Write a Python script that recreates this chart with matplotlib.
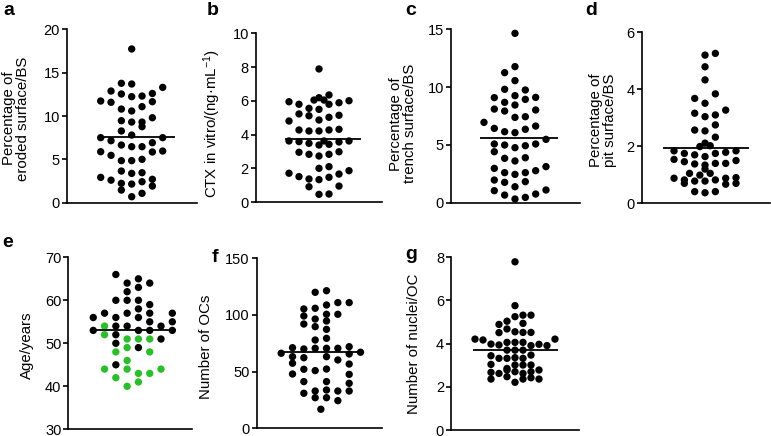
import matplotlib
matplotlib.use('Agg')
import matplotlib.pyplot as plt

plt.rcParams['font.family'] = ['Liberation Sans', 'DejaVu Sans']
plt.rcParams['mathtext.fontset'] = 'custom'
plt.rcParams['mathtext.rm'] = 'Liberation Sans'
plt.rcParams['mathtext.it'] = 'Liberation Sans:italic'
plt.rcParams['mathtext.bf'] = 'Liberation Sans:bold'

# ---------------- data (column offset within swarm, value) ----------------
# a: Percentage of eroded surface/BS
a_cols = [0, -1, 0, 3, -2, -1, 0, 1, 2, -3, -2, 2, 1, -1, 0, 2, -1, 0, 1, 1, -1, 0,
          -3, -2, 3, 2, -1, 0, 1, -3, -2, 2, 3, -1, 0, 1, -1, 0, 1, -3, -2, 2,
          -1, 0, 1, 2, -1, 1, 0]
a_vals = [17.73, 13.77, 13.69, 13.3, 12.88, 12.54, 12.23, 12.3, 12.6, 11.73, 11.58, 11.65,
          11.08, 10.8, 10.58, 9.8, 9.46, 9.3, 9.3, 8.77, 8.27, 7.8,
          7.5, 7.15, 7.5, 6.92, 6.65, 6.46, 6.46, 5.88, 5.46, 5.85, 5.96, 4.85, 4.85, 5.0,
          3.65, 3.38, 3.46, 2.92, 2.6, 2.7, 2.23, 2.15, 2.42, 1.92, 1.46, 1.08, 0.69]
a_mean = 7.54

# b: CTX in vitro
b_cols = [0, 1, 0, -0.5, 0.5, -3, -2, 2, 3, 1, -1, 0, -2, -1, 2, -3, 0, 1,
          -2, -1, 0, 1, 2, -3, -2, -1, 0, 0.5, 1, 2, 3, -2, -1, 0, 1, 2,
          0, 1, -3, -2, -1, 0, 1, 2, 3, -1, 2, 0, 1]
b_vals = [7.89, 6.35, 6.19, 6.05, 6.05, 5.95, 5.80, 5.89, 6.01, 5.80, 5.56, 5.50, 5.23, 5.12, 5.15,
          4.81, 4.87, 5.03,
          4.28, 4.22, 4.22, 4.28, 4.32, 3.63, 3.59, 3.49, 3.39, 3.63, 3.43, 3.57, 3.63,
          2.96, 2.84, 2.74, 2.84, 2.99, 2.01, 2.11, 1.72, 1.52, 1.38, 1.34, 1.48, 1.67, 1.87,
          0.92, 0.96, 0.47, 0.49]
b_mean = 3.75

# c: Percentage of trench surface/BS
c_cols = [0, 0, -1, 0, -1, 1, 0, -2, 1, 2, -1, 0, -2, -1, 2, 0, 1, -3,
          -2, -1, 0, 1, 2, 3, -2, -1, 0, 1, 2, -2, -1, 0, 1,
          -2, -1, 0, 1, 2, 3, -2, -1, 0, 1, -2, -1, 0, 1, 2, 3]
c_vals = [14.65, 11.77, 11.25, 10.56, 9.81, 9.75, 9.26, 9.09, 8.94, 9.11, 8.68, 8.45, 8.10, 7.93,
          8.02, 7.38, 7.44, 6.95,
          6.43, 6.14, 6.06, 6.35, 6.63, 5.48, 5.08, 4.99, 4.76, 4.93, 5.08, 4.41, 3.84, 3.61, 3.89,
          2.97, 2.60, 2.45, 2.60, 2.77, 3.12, 1.96, 1.76, 1.38, 1.82,
          1.04, 0.66, 0.32, 0.46, 0.75, 1.10]
c_mean = 5.57

# d: Percentage of pit surface/BS
d_cols = [0, 1, 0, 0, 1, -1, 0, 2, -1, 0, 1, 1, -1, 0, 1, 0, -0.5, 0.5,
          -3, -2, -1, 0, 1, 2, 3, -3, -2, -1, 0, 1, 2, 3,
          0, -1.5, -0.5, 0.5, -3, -2, -1, 0, 1, 2, 3, -2, 2, 3, -1, 0, 1]
d_vals = [5.20, 5.26, 4.79, 4.33, 3.84, 3.68, 3.51, 3.27, 3.16, 3.04, 3.10, 2.75, 2.57, 2.54, 2.32,
          2.11, 1.99, 2.02,
          1.84, 1.75, 1.70, 1.64, 1.75, 1.79, 1.84, 1.54, 1.46, 1.38, 1.34, 1.40, 1.40, 1.50,
          1.20, 1.05, 0.99, 1.05, 0.88, 0.82, 0.78, 0.78, 0.82, 0.88, 0.90, 0.70, 0.67, 0.70,
          0.41, 0.37, 0.41]
d_mean = 1.93

# e: Age/years (black and green groups)
e_black_cols = [-1.5, -0.5, 0.5, 1.5, 0.5, -0.5, -1.5, -0.5, 0.5, 0.5, 1.5, -2.5, -0.5, 1.5, 3.5,
                -3.5, -1.5, 0.5, 1.5, 3.5, -1.5, -0.5, 2.5, -3.5, 0.5, 1.5, 3.5, -1.5, 2.5,
                -1.5, 0.5, -1.5]
e_black_vals = [66, 64, 65, 64, 63, 62, 60, 60, 60, 58, 59, 57, 57, 57, 57,
                56, 56, 56, 55, 55, 54, 54, 54, 53, 53, 53, 53, 52, 51,
                50, 49, 45]
e_green_cols = [-2.5, -2.5, -0.5, 0.5, 1.5, -1.5, 1.5, -0.5, -0.5, -2.5, -0.5, 2.5, 0.5, 1.5,
                -1.5, 0.5, -0.5]
e_green_vals = [54, 52, 51, 51, 51, 48, 48, 49, 46, 44, 44, 44, 43, 43, 42, 41, 40]
e_mean = 53.0

# f: Number of OCs
f_cols = [-0.5, 0.5, -1.5, -0.5, 0.5, 1.5, 2.5, -1.5, -0.5, 0.5, 1.5, -1.5, -0.5, 0.5, 0.5,
          -0.5, 0.5, -2.5, -1.5, -0.5, 0.5, 1.5, 2.5, -3.5, 3.5, -2.5, -1.5, 0.5, 1.5, 2.5,
          -2.5, 2.5, -2.5, -1.5, -0.5, 0.5, 2.5, -1.5, 0.5, 2.5,
          -1.5, -0.5, 0.5, 1.5, 2.5, -0.5, 0.5, 1.5, 0]
f_vals = [120.0, 121.4, 105.3, 105.9, 108.8, 110.9, 110.9, 99.1, 96.4, 100.6, 100.6, 92.0, 89.7,
          94.7, 87.3, 77.9, 79.4, 71.1, 70.0, 70.6, 70.6, 70.6, 72.0, 66.2, 67.1,
          63.2, 62.3, 63.2, 60.3, 65.6, 57.4, 56.7, 47.9, 52.1, 50.9, 52.3, 47.6, 41.2, 41.2, 39.7,
          30.9, 32.9, 33.8, 32.9, 32.9, 27.0, 27.0, 24.4, 16.8]
f_mean = 67.6

# g: Number of nuclei/OC
g_cols = [0, 0, 0, 1, 2, -2, -1, 1, -2, -1, 0, 1, 2,
          -5, -4, -3, -2, -1, 0, 1, 2, 3, 4, 5,
          -1, 0, 1, -3, -2, -1, 0, 1, 2,
          -3, -1, 0, 1, 2, -3, -2, -1, 0, 1, 2, 3,
          -3, -1, 0, 1, 2, 3]
g_vals = [7.79, 5.76, 5.25, 5.32, 5.32, 4.89, 5.04, 4.94, 4.51, 4.68, 4.55, 4.52, 4.52,
          4.21, 4.17, 3.98, 3.94, 4.06, 4.06, 4.06, 3.91, 3.97, 3.91, 4.21,
          3.70, 3.70, 3.70, 3.44, 3.32, 3.32, 3.35, 3.32, 3.47,
          3.04, 2.85, 3.01, 3.01, 3.01, 2.67, 2.62, 2.78, 2.70, 2.62, 2.70, 2.78,
          2.36, 2.47, 2.21, 2.36, 2.42, 2.36]
g_mean = 3.71

ylabels = {
    'a': 'Percentage of\neroded surface/BS',
    'b': 'CTX in vitro/(ng·mL$^{-1}$)',
    'c': 'Percentage of\ntrench surface/BS',
    'd': 'Percentage of\npit surface/BS',
    'e': 'Age/years',
    'f': 'Number of OCs',
    'g': 'Number of nuclei/OC',
}
yticks = {
    'a': [0, 5, 10, 15, 20],
    'b': [0, 2, 4, 6, 8, 10],
    'c': [0, 5, 10, 15],
    'd': [0, 2, 4, 6],
    'e': [30, 40, 50, 60, 70],
    'f': [0, 50, 100, 150],
    'g': [0, 2, 4, 6, 8],
}

# ---------------- layout ----------------
W, H = 771, 436
fig = plt.figure(figsize=(W / 100, H / 100), dpi=100)
GREEN = '#27c027'

# name: (x0, x1, ytop, ybot, xlim, mean-line extent, label coords, letter pos)
layout = {
    'a': (66.7, 196.7, 29.3, 202.7, (-6.29, 6.29), (-3.23, 4.19), (-0.28, 0.485), (3, 15)),
    'b': (255.7, 381.7, 33.3, 202.3, (-6.33, 6.27), (-3.4, 4.17), (-0.26, 0.466), (207, 15)),
    'c': (451.0, 580.0, 29.3, 202.7, (-6.19, 6.29), (-3.39, 4.19), (-0.26, 0.455), (405, 15)),
    'd': (641.7, 770.0, 32.3, 203.3, (-6.13, 6.29), (-4.1, 4.26), (-0.195, 0.487), (585, 15)),
    'e': (68.3, 192.3, 257.3, 429.3, (-5.71, 5.27), (-3.73, 3.82), (-0.28, 0.49), (2, 247)),
    'f': (256.7, 381.7, 258.3, 428.3, (-5.66, 5.37), (-3.6, 3.3), (-0.35, 0.48), (212, 262)),
    'g': (451.0, 579.3, 257.3, 430.0, (-8.0, 8.04), (-5.2, 5.4), (-0.236, 0.5), (405, 259)),
}

series = {
    'a': [(a_cols, a_vals, 'black')],
    'b': [(b_cols, b_vals, 'black')],
    'c': [(c_cols, c_vals, 'black')],
    'd': [(d_cols, d_vals, 'black')],
    'e': [(e_black_cols, e_black_vals, 'black'), (e_green_cols, e_green_vals, GREEN)],
    'f': [(f_cols, f_vals, 'black')],
    'g': [(g_cols, g_vals, 'black')],
}
means = {'a': a_mean, 'b': b_mean, 'c': c_mean, 'd': d_mean, 'e': e_mean, 'f': f_mean, 'g': g_mean}

for name, (x0, x1, yt, yb, xl, ml, lc, lpos) in layout.items():
    ax = fig.add_axes([x0 / W, 1 - yb / H, (x1 - x0) / W, (yb - yt) / H])
    for cols, vals, col in series[name]:
        ax.scatter(cols, vals, s=28, c=col, edgecolors='none', zorder=3, clip_on=False)
    ax.hlines(means[name], ml[0], ml[1], color='black', lw=1.3, zorder=4)
    ax.set_xlim(*xl)
    t = yticks[name]
    ax.set_ylim(t[0], t[-1])
    ax.set_yticks(t)
    ax.set_xticks([])
    for s in ('top', 'right'):
        ax.spines[s].set_visible(False)
    for s in ('left', 'bottom'):
        ax.spines[s].set_linewidth(1.2)
    ax.tick_params(axis='y', length=3.5, width=1.2, pad=1.5, labelsize=10.5)
    ax.set_ylabel(ylabels[name], fontsize=10.8, linespacing=1.0)
    ax.yaxis.set_label_coords(*lc)
    fig.text(lpos[0] / W, 1 - lpos[1] / H, name, fontsize=14, fontweight='bold',
             ha='left', va='baseline')

fig.savefig('out.png', dpi=100)
